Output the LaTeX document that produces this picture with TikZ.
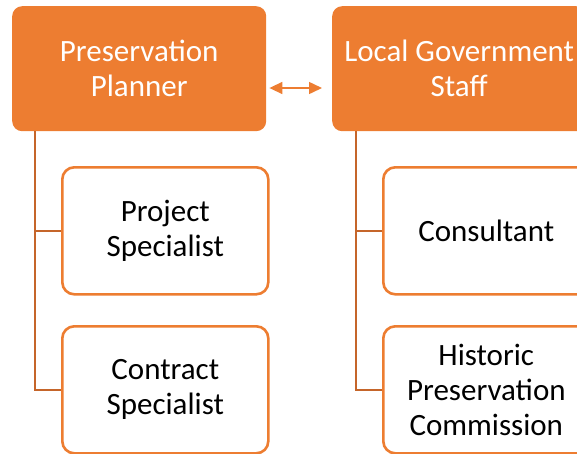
\documentclass[tikz,border=0pt]{standalone}
\usepackage{fontspec}
\setmainfont{Carlito}
\usetikzlibrary{arrows.meta}
\definecolor{acc}{HTML}{ED7D31}
\definecolor{conn}{HTML}{C5652A}
\begin{document}
\begin{tikzpicture}[x=1pt,y=-1pt,
  parentbox/.style={draw=none,fill=acc,rounded corners=10pt,text=white,align=center,
     font=\fontsize{31}{35}\selectfont,anchor=north west,inner sep=0pt},
  childbox/.style={draw=acc,line width=2.6pt,fill=white,rounded corners=12pt,text=black,align=center,
     font=\fontsize{31}{35}\selectfont,anchor=north west,inner sep=0pt},
  linkline/.style={draw=conn,line width=2.6pt},
  dblarrow/.style={draw=acc,line width=1.5pt,{Triangle[length=13pt,width=12pt]}-{Triangle[length=13pt,width=12pt]}}]
\useasboundingbox (0,0) rectangle (577,453);
\begin{scope}
\clip (0,0) rectangle (577,453);
\node[parentbox,minimum width=254pt,minimum height=125pt] (pp) at (12,6) {Preservation\\Planner};
\node[parentbox,minimum width=254pt,minimum height=125pt] (lg) at (332,6) {Local Government\\Staff};
\node[childbox,minimum width=206pt,minimum height=127pt] (ps) at (61,166) {Project\\Specialist};
\node[childbox,minimum width=206pt,minimum height=127pt] (cs) at (61,325) {Contract\\Specialist};
\node[childbox,minimum width=206pt,minimum height=127pt] (co) at (382,166) {Consultant};
\node[childbox,minimum width=206pt,minimum height=127pt] (hp) at (382,325) {Historic\\Preservation\\Commission};
\coordinate (p1) at (35,131);
\coordinate (l1) at (356,131);
\draw[linkline] (p1) |- (ps.west);
\draw[linkline] (p1) |- (cs.west);
\draw[linkline] (l1) |- (co.west);
\draw[linkline] (l1) |- (hp.west);
\draw[dblarrow] ([xshift=3pt]pp.east|-0,88) -- ([xshift=-10pt]lg.west|-0,88);
\end{scope}
\end{tikzpicture}
\end{document}
